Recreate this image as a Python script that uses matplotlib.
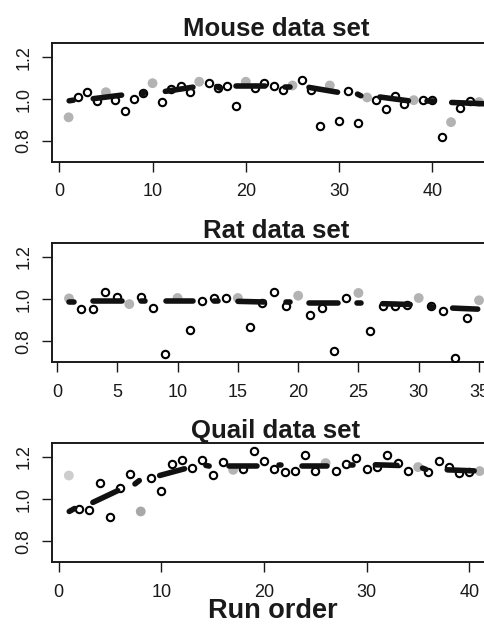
import matplotlib
matplotlib.use("Agg")
import matplotlib.pyplot as plt
import numpy as np

plt.rcParams['font.family'] = ['Liberation Sans', 'DejaVu Sans']

# ---------------- data ----------------
mouse_y = [0.913, 1.010, 1.032, 0.989, 1.033, 0.997, 0.944, 1.000, 1.029, 1.076,
           0.984, 1.048, 1.063, 1.033, 1.083, 1.079, 1.054, 1.063, 0.968, 1.083,
           1.051, 1.075, 1.063, 1.043, 1.065, 1.092, 1.044, 0.870, 1.065, 0.895,
           1.037, 0.886, 1.008, 0.995, 0.954, 1.013, 0.976, 0.995, 0.997, 0.997,
           0.820, 0.890, 0.959, 0.989, 0.986]
mouse_qc = [1, 5, 10, 15, 20, 25, 29, 33, 38, 42, 45]
mouse_seg_x0 = [1.06, 3.64, 8.87, 11.37, 16.87, 18.97, 24.17, 26.77, 31.97, 34.37, 39.37, 42.07]
mouse_seg_x1 = [1.52, 6.68, 9.13, 14.33, 17.23, 22.03, 24.73, 29.83, 32.33, 37.43, 40.13, 46.0]
mouse_seg_y0 = [0.992, 1.002, 1.021, 1.037, 1.060, 1.063, 1.057, 1.056, 1.024, 1.010, 0.992, 0.984]
mouse_seg_y1 = [0.995, 1.019, 1.033, 1.057, 1.052, 1.063, 1.057, 1.033, 1.016, 0.992, 0.992, 0.977]

rat_y = [1.003, 0.954, 0.955, 1.034, 1.010, 0.976, 1.010, 0.957, 0.739, 1.005,
         0.853, 0.989, 1.006, 1.003, 1.005, 0.866, 0.981, 1.034, 0.965, 1.016,
         0.926, 0.957, 0.752, 1.005, 1.029, 0.846, 0.965, 0.965, 0.974, 1.005,
         0.965, 0.941, 0.720, 0.909, 0.994]
rat_qc = [1, 6, 10, 15, 20, 25, 30, 35]
rat_seg_x0 = [1.04, 3.01, 7.01, 9.06, 13.01, 15.01, 19.01, 20.91, 24.91, 27.01, 31.01, 32.81]
rat_seg_x1 = [1.39, 5.39, 7.29, 11.29, 13.39, 17.19, 19.29, 23.29, 25.19, 29.29, 31.19, 34.89]
rat_seg_y0 = [0.986, 0.989, 0.990, 0.990, 0.992, 0.989, 0.984, 0.981, 0.979, 0.978, 0.965, 0.957]
rat_seg_y1 = [0.986, 0.989, 0.990, 0.990, 0.992, 0.986, 0.984, 0.981, 0.979, 0.974, 0.960, 0.952]

quail_y = [1.112, 0.955, 0.947, 1.077, 0.915, 1.053, 1.118, 0.941, 1.101, 1.037,
           1.168, 1.187, 1.149, 1.187, 1.112, 1.176, 1.139, 1.142, 1.229, 1.181,
           1.144, 1.130, 1.134, 1.208, 1.133, 1.171, 1.134, 1.165, 1.195, 1.144,
           1.152, 1.211, 1.171, 1.134, 1.152, 1.131, 1.182, 1.152, 1.125, 1.131,
           1.133]
quail_qc = [1, 8, 17, 26, 35, 41]
quail_seg_x0 = [1.04, 3.34, 7.44, 9.84, 14.34, 16.64, 21.44, 23.74, 28.44, 30.84, 35.44, 37.84]
quail_seg_x1 = [1.56, 5.76, 7.86, 12.26, 14.66, 19.36, 21.66, 26.16, 28.66, 32.96, 35.76, 40.46]
quail_seg_y0 = [0.941, 0.984, 1.072, 1.112, 1.160, 1.157, 1.160, 1.157, 1.160, 1.163, 1.147, 1.139]
quail_seg_y1 = [0.955, 1.040, 1.088, 1.144, 1.157, 1.157, 1.160, 1.157, 1.160, 1.160, 1.141, 1.134]

titles = ["Mouse data set", "Rat data set", "Quail data set"]
xticks_mouse = [0, 10, 20, 30, 40]
xticks_rat = [0, 5, 10, 15, 20, 25, 30, 35]
xticks_quail = [0, 10, 20, 30, 40]
yticks = [0.8, 1.0, 1.2]
xlabel = "Run order"

# ---------------- layout ----------------
W, H = 484, 625
fig = plt.figure(figsize=(W / 100, H / 100), dpi=100)

panels = [
    dict(y=mouse_y, qc=mouse_qc, sx0=mouse_seg_x0, sx1=mouse_seg_x1, sy0=mouse_seg_y0,
         sy1=mouse_seg_y1, xt=xticks_mouse, xlim=(-0.78, 48.0), top=43, bot=161.5,
         tbase=35.5),
    dict(y=rat_y, qc=rat_qc, sx0=rat_seg_x0, sx1=rat_seg_x1, sy0=rat_seg_y0,
         sy1=rat_seg_y1, xt=xticks_rat, xlim=(-0.41, 37.32), top=242.7, bot=361.7,
         tbase=238.3),
    dict(y=quail_y, qc=quail_qc, sx0=quail_seg_x0, sx1=quail_seg_x1, sy0=quail_seg_y0,
         sy1=quail_seg_y1, xt=xticks_quail, xlim=(-0.64, 43.66), top=442.7, bot=561.7,
         tbase=438.3),
]

gray = "#b3b3b3"
left_px, width_px = 52, 455

for i, p in enumerate(panels):
    ax = fig.add_axes([left_px / W, 1 - p['bot'] / H, width_px / W, (p['bot'] - p['top']) / H])
    y = np.array(p['y'])
    x = np.arange(1, len(y) + 1)
    isqc = np.isin(x, p['qc'])
    ax.plot(x[~isqc], y[~isqc], linestyle='none', marker='o', markersize=5.3,
            markerfacecolor='none', markeredgecolor='black', markeredgewidth=1.5,
            zorder=3)
    qc_colors = [gray] * int(isqc.sum())
    if i == 2:
        qc_colors[0] = "#cdcdcd"
        qc_colors[1] = "#a8a8a8"
    ax.scatter(x[isqc], y[isqc], s=50, c=qc_colors, edgecolors='none', zorder=2)
    for a0, a1, b0, b1 in zip(p['sx0'], p['sx1'], p['sy0'], p['sy1']):
        ax.plot([a0, a1], [b0, b1], color='#111111', linewidth=4.0,
                solid_capstyle='round', zorder=4)
    ax.set_xlim(*p['xlim'])
    ax.set_ylim(0.702, 1.268)
    ax.set_xticks(p['xt'])
    ax.set_xticklabels([str(t) for t in p['xt']])
    ax.set_yticks(yticks)
    ax.set_yticklabels([f"{t:.1f}" for t in yticks], rotation=90, va='center')
    ax.tick_params(axis='both', direction='out', length=7.2, width=1.0,
                   labelsize=13, colors='#1a1a1a')
    ax.tick_params(axis='x', pad=8.5)
    ax.tick_params(axis='y', pad=7.0)
    for s in ax.spines.values():
        s.set_linewidth(1.4)
        s.set_color('#1a1a1a')
    fig.text(276 / W, 1 - p['tbase'] / H, titles[i], ha='center', va='baseline',
             fontsize=18.5, fontweight='bold', color='#1a1a1a')

fig.text(273 / W, 1 - 618 / H, xlabel, ha='center', va='baseline',
         fontsize=19.5, fontweight='bold', color='#1a1a1a')

fig.savefig("out.png", dpi=100)
